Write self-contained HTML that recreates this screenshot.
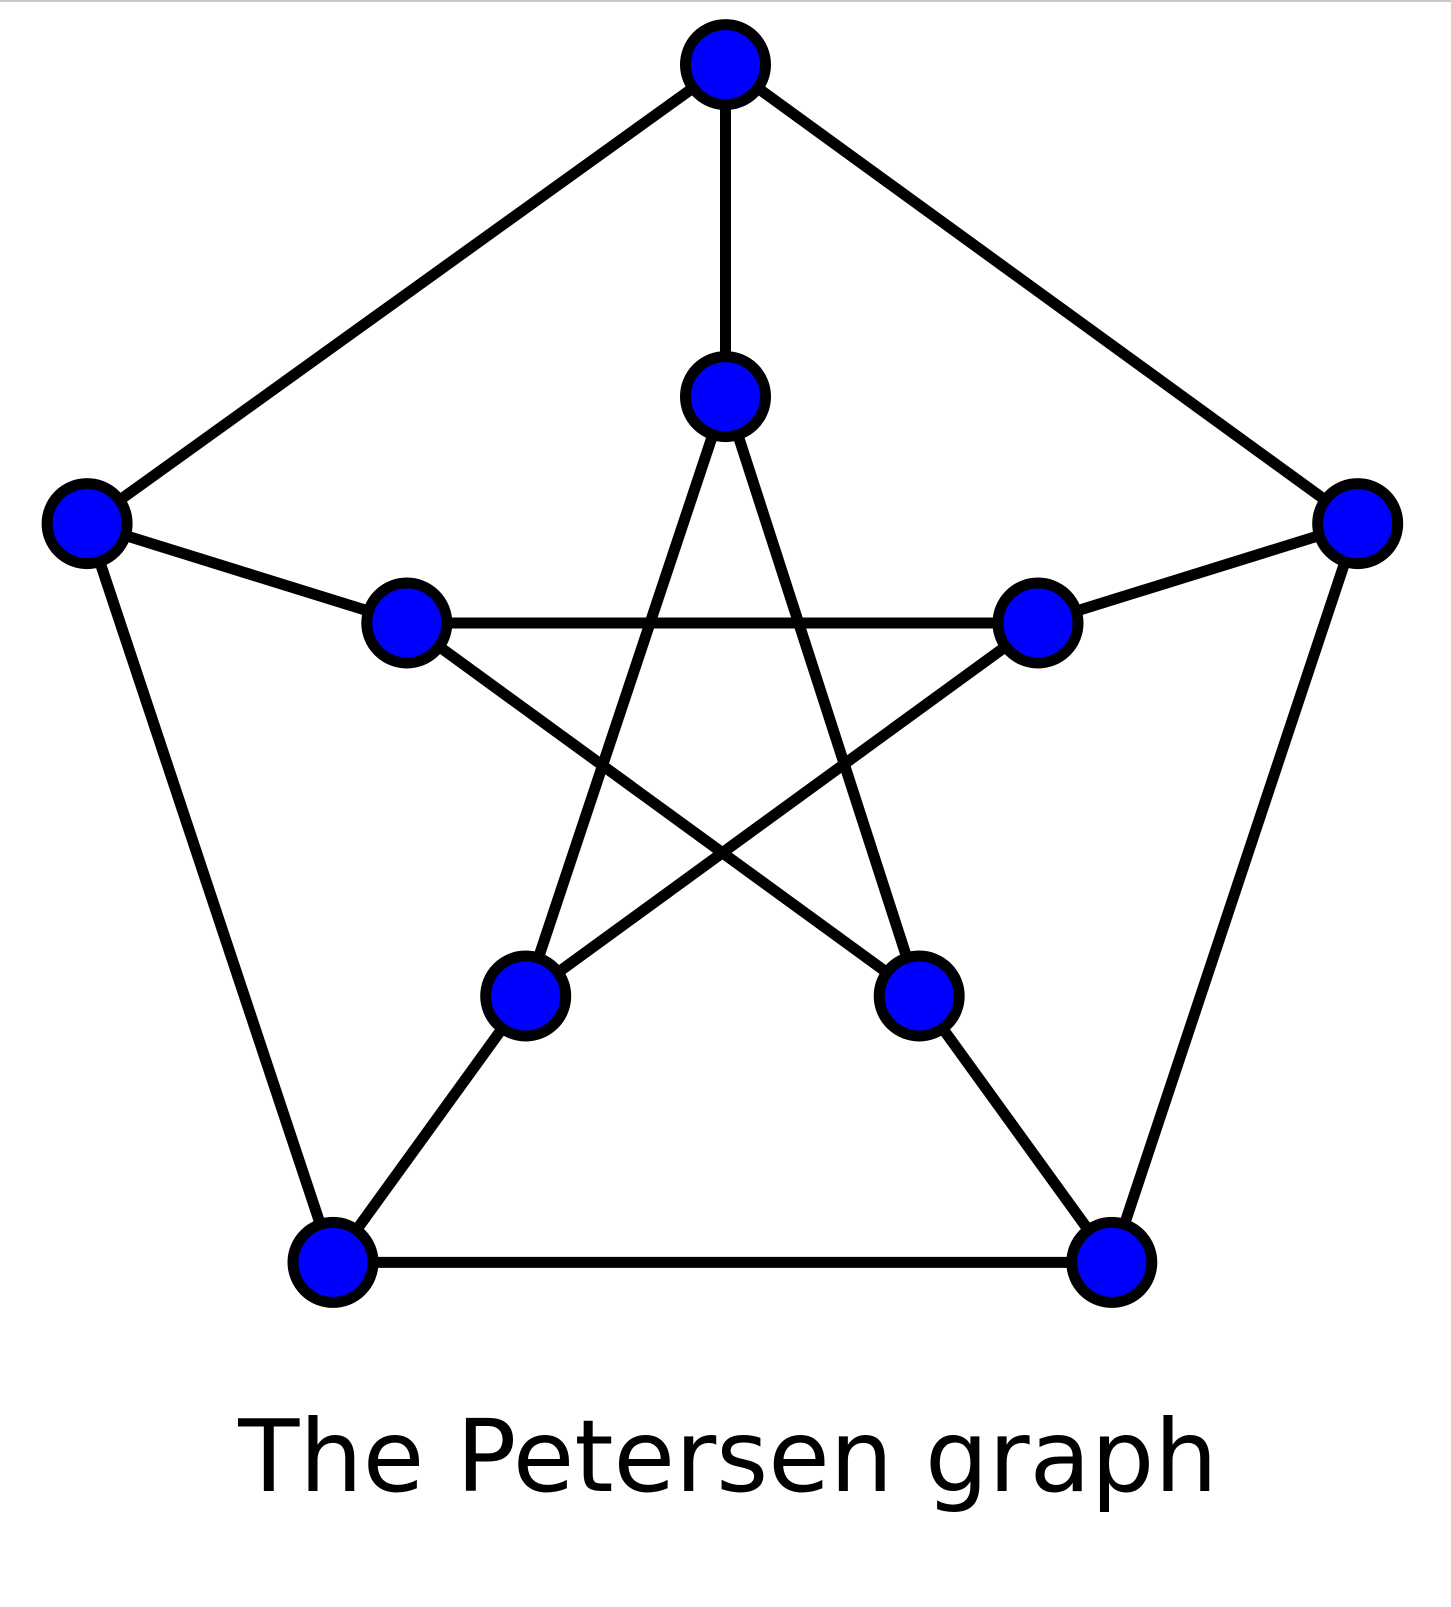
<!DOCTYPE html>
<html><head><meta charset="utf-8"><style>
html,body{margin:0;padding:0;background:#fff;width:1451px;height:1607px;overflow:hidden}
svg{display:block}
</style></head><body>
<svg id="chart" width="1451" height="1607" viewBox="0 0 1451 1607">
<rect x="0" y="0" width="1451" height="2" fill="#c8c8c8"/>
<g id="edges"></g>
<g id="nodes"></g>
<text x="728" y="1491" text-anchor="middle" font-family="'DejaVu Sans','Liberation Sans',sans-serif" font-size="100" fill="#000">The Petersen graph</text>
</svg>
<script>
const nodeX = [725.5, 1357.7, 1111.8, 333, 87.1, 725.5, 1038, 919.2, 525.7, 406.8];
const nodeY = [64.6, 523.6, 1262.4, 1262.4, 523.6, 396.6, 623, 996, 996, 623];
const edgeFrom = [0,1,2,3,4, 0,1,2,3,4, 5,6,7,8,9];
const edgeTo   = [1,2,3,4,0, 5,6,7,8,9, 7,8,9,5,6];
const NS = 'http://www.w3.org/2000/svg';
const eg = document.getElementById('edges');
const ng = document.getElementById('nodes');
for (let i = 0; i < edgeFrom.length; i++) {
  const l = document.createElementNS(NS, 'line');
  l.setAttribute('x1', nodeX[edgeFrom[i]]); l.setAttribute('y1', nodeY[edgeFrom[i]]);
  l.setAttribute('x2', nodeX[edgeTo[i]]); l.setAttribute('y2', nodeY[edgeTo[i]]);
  l.setAttribute('stroke', '#000'); l.setAttribute('stroke-width', '11');
  
  
  eg.appendChild(l);
}
for (let i = 0; i < nodeX.length; i++) {
  const c = document.createElementNS(NS, 'circle');
  c.setAttribute('cx', nodeX[i]); c.setAttribute('cy', nodeY[i]); c.setAttribute('r', '40');
  c.setAttribute('fill', '#0000ff'); c.setAttribute('stroke', '#000'); c.setAttribute('stroke-width', '11');
  
  
  ng.appendChild(c);
}
</script>
</body></html>
